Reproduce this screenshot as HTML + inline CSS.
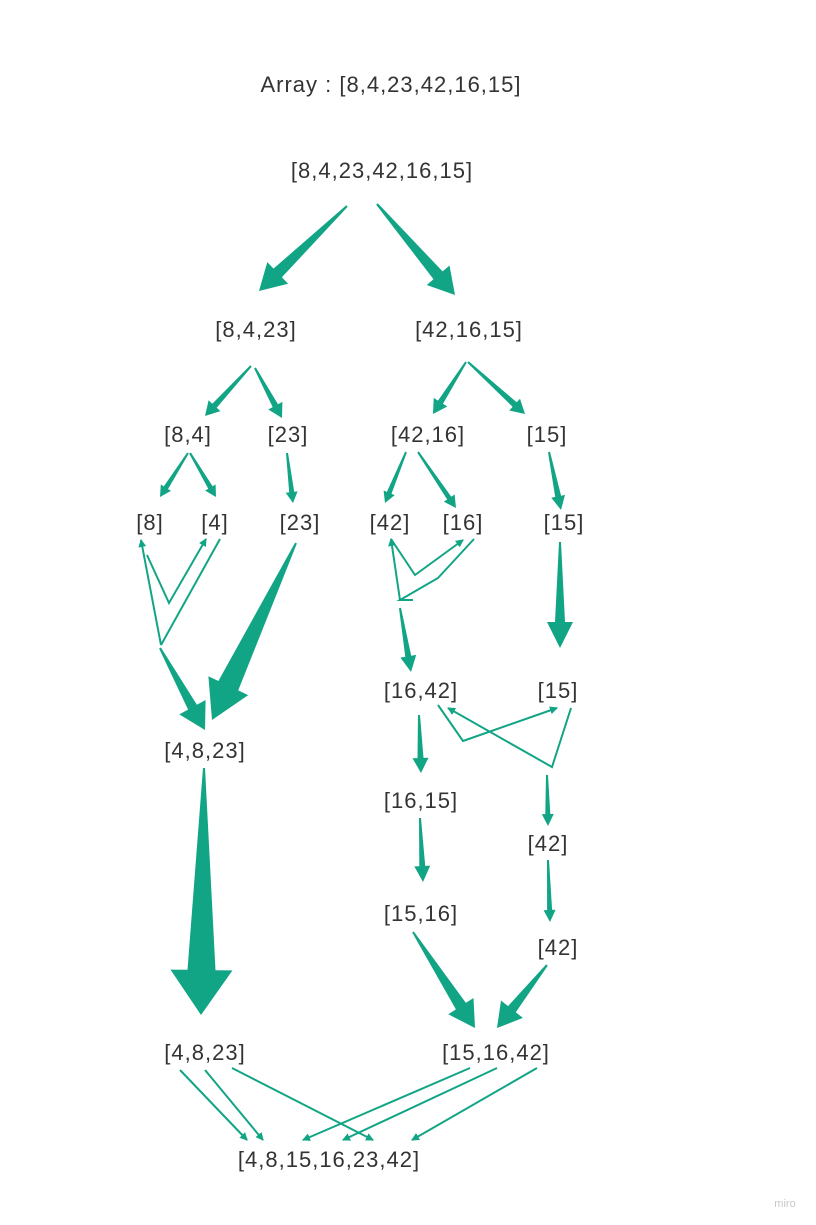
<!DOCTYPE html>
<html><head><meta charset="utf-8"><style>
body{margin:0;background:#fff;width:816px;height:1225px;overflow:hidden}
svg{position:absolute;left:0;top:0}
text{font-family:"Liberation Sans",sans-serif;font-size:22px;letter-spacing:1px;fill:#333;text-anchor:middle}
</style></head><body>
<svg id="s" width="816" height="1225" viewBox="0 0 816 1225">
<defs><marker id="m" markerWidth="8" markerHeight="8" refX="7" refY="4" orient="auto" markerUnits="userSpaceOnUse"><path d="M0,0 L8,4 L0,8 Z" fill="#12a585"/></marker></defs>
<g fill="none" stroke="#12a585" stroke-width="2">
<polyline points="161,645 141,540" marker-end="url(#m)"/>
<polyline points="147,555 169,603 206,539" marker-end="url(#m)"/>
<polyline points="220,539 161,645"/>
<polyline points="400,600 391,539" marker-end="url(#m)"/>
<polyline points="391,539 415,575 463,540" marker-end="url(#m)"/>
<polyline points="474,539 438,578 400,600 413,600"/>
<polyline points="438,705 463,741 557,708" marker-end="url(#m)"/>
<polyline points="571,708 552,767 448,708" marker-end="url(#m)"/>
<polyline points="180,1070 247,1140" marker-end="url(#m)"/>
<polyline points="205,1070 263,1140" marker-end="url(#m)"/>
<polyline points="232,1068 373,1140" marker-end="url(#m)"/>
<polyline points="470,1068 303,1140" marker-end="url(#m)"/>
<polyline points="497,1068 343,1140" marker-end="url(#m)"/>
<polyline points="537,1068 412,1140" marker-end="url(#m)"/>
</g>
<g id="w" fill="#12a585"></g>
<text x="391" y="92">Array : [8,4,23,42,16,15]</text>
<text x="382" y="178">[8,4,23,42,16,15]</text>
<text x="256" y="337">[8,4,23]</text>
<text x="469" y="337">[42,16,15]</text>
<text x="188" y="442">[8,4]</text>
<text x="288" y="442">[23]</text>
<text x="428" y="442">[42,16]</text>
<text x="547" y="442">[15]</text>
<text x="150" y="530">[8]</text>
<text x="215" y="530">[4]</text>
<text x="300" y="530">[23]</text>
<text x="390" y="530">[42]</text>
<text x="463" y="530">[16]</text>
<text x="564" y="530">[15]</text>
<text x="421" y="698">[16,42]</text>
<text x="558" y="698">[15]</text>
<text x="205" y="758">[4,8,23]</text>
<text x="421" y="808">[16,15]</text>
<text x="548" y="851">[42]</text>
<text x="421" y="921">[15,16]</text>
<text x="558" y="955">[42]</text>
<text x="205" y="1060">[4,8,23]</text>
<text x="496" y="1060">[15,16,42]</text>
<text x="329" y="1167">[4,8,15,16,23,42]</text>
<text x="785" y="1207" style="font-size:11px;letter-spacing:0;fill:#c8c8c8">miro</text>
</svg>
<script>
var A=[
[347,206,259,291,12,30,26],[377,204,455,295,12,30,26],
[251,366,205,416,6,16,14],[255,368,282,418,6,16,14],
[466,362,433,414,6,16,14],[468,362,525,414,6,16,14],
[188,453,160,497,5,12,11],[190,453,216,497,5,12,11],
[287,453,293,503,5,12,11],[406,452,385,503,5,12,11],
[418,452,456,508,5,13,12],[549,452,561,510,6,14,14],
[560,542,560,648,10,26,26],[296,543,212,720,22,44,38],
[160,648,205,730,10,30,26],[400,608,411,672,6,16,16],
[204,768,201,1015,28,62,45],[419,715,421,773,6,16,15],
[420,818,423,882,6,16,16],[413,932,475,1028,12,30,26],
[547,965,497,1028,10,28,24],[547,775,548,826,5,12,12],
[548,860,550,922,5,12,12]];
var g=document.getElementById('w'),s='';
A.forEach(function(a){var x1=a[0],y1=a[1],x2=a[2],y2=a[3],ws=a[4],wh=a[5],hl=a[6];
var dx=x2-x1,dy=y2-y1,L=Math.hypot(dx,dy),ux=dx/L,uy=dy/L,px=-uy,py=ux;
var hx=x2-ux*hl,hy=y2-uy*hl;function p(x,y){return x.toFixed(1)+','+y.toFixed(1)}
var pts=[p(x1+px,y1+py),p(hx+px*ws/2,hy+py*ws/2),p(hx+px*wh/2,hy+py*wh/2),p(x2,y2),p(hx-px*wh/2,hy-py*wh/2),p(hx-px*ws/2,hy-py*ws/2),p(x1-px,y1-py)];
s+='<polygon points="'+pts.join(' ')+'"/>';});
g.innerHTML=s;
</script>
</body></html>
